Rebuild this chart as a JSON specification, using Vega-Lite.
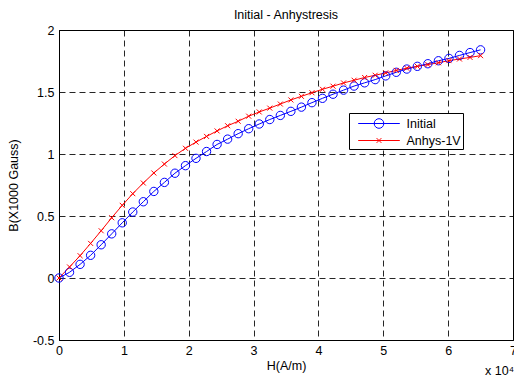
{
  "$schema": "https://vega.github.io/schema/vega-lite/v6.json",
  "autosize": "none",
  "width": 454,
  "height": 310,
  "padding": {"left": 59, "top": 30, "right": 1, "bottom": 37},
  "background": "white",
  "config": {
    "view": {"stroke": "#000", "strokeWidth": 1},
    "font": "Liberation Sans",
    "axis": {
      "labelFont": "Liberation Sans", "labelFontSize": 12.5, "labelColor": "#000",
      "titleFont": "Liberation Sans", "titleFontSize": 12.5, "titleFontWeight": "normal", "titleColor": "#000",
      "grid": true, "gridColor": "#000", "gridDash": [6, 4], "gridOpacity": 0.85, "gridWidth": 1,
      "ticks": false, "tickSize": 0, "domainColor": "#000"
    },
    "title": {"font": "Liberation Sans", "fontSize": 12.5, "fontWeight": "normal", "color": "#000", "offset": 3}
  },
  "title": {"text": "Initial - Anhystresis"},
  "data": {"values": [
    {"H": 0, "B": 0, "series": "Initial"},
    {"H": 1625, "B": 0.046, "series": "Initial"},
    {"H": 3250, "B": 0.11, "series": "Initial"},
    {"H": 4875, "B": 0.183, "series": "Initial"},
    {"H": 6500, "B": 0.268, "series": "Initial"},
    {"H": 8125, "B": 0.356, "series": "Initial"},
    {"H": 9750, "B": 0.445, "series": "Initial"},
    {"H": 11375, "B": 0.532, "series": "Initial"},
    {"H": 13000, "B": 0.615, "series": "Initial"},
    {"H": 14625, "B": 0.698, "series": "Initial"},
    {"H": 16250, "B": 0.771, "series": "Initial"},
    {"H": 17875, "B": 0.845, "series": "Initial"},
    {"H": 19500, "B": 0.906, "series": "Initial"},
    {"H": 21125, "B": 0.965, "series": "Initial"},
    {"H": 22750, "B": 1.02, "series": "Initial"},
    {"H": 24375, "B": 1.077, "series": "Initial"},
    {"H": 26000, "B": 1.12, "series": "Initial"},
    {"H": 27625, "B": 1.164, "series": "Initial"},
    {"H": 29250, "B": 1.204, "series": "Initial"},
    {"H": 30875, "B": 1.242, "series": "Initial"},
    {"H": 32500, "B": 1.278, "series": "Initial"},
    {"H": 34125, "B": 1.311, "series": "Initial"},
    {"H": 35750, "B": 1.344, "series": "Initial"},
    {"H": 37375, "B": 1.378, "series": "Initial"},
    {"H": 39000, "B": 1.414, "series": "Initial"},
    {"H": 40625, "B": 1.449, "series": "Initial"},
    {"H": 42250, "B": 1.482, "series": "Initial"},
    {"H": 43875, "B": 1.515, "series": "Initial"},
    {"H": 45500, "B": 1.548, "series": "Initial"},
    {"H": 47125, "B": 1.574, "series": "Initial"},
    {"H": 48750, "B": 1.6, "series": "Initial"},
    {"H": 50375, "B": 1.63, "series": "Initial"},
    {"H": 52000, "B": 1.659, "series": "Initial"},
    {"H": 53625, "B": 1.685, "series": "Initial"},
    {"H": 55250, "B": 1.707, "series": "Initial"},
    {"H": 56875, "B": 1.728, "series": "Initial"},
    {"H": 58500, "B": 1.752, "series": "Initial"},
    {"H": 60125, "B": 1.771, "series": "Initial"},
    {"H": 61750, "B": 1.795, "series": "Initial"},
    {"H": 63375, "B": 1.818, "series": "Initial"},
    {"H": 65000, "B": 1.84, "series": "Initial"},
    {"H": 0, "B": 0, "series": "Anhys-1V"},
    {"H": 1625, "B": 0.089, "series": "Anhys-1V"},
    {"H": 3250, "B": 0.18, "series": "Anhys-1V"},
    {"H": 4875, "B": 0.279, "series": "Anhys-1V"},
    {"H": 6500, "B": 0.381, "series": "Anhys-1V"},
    {"H": 8125, "B": 0.486, "series": "Anhys-1V"},
    {"H": 9750, "B": 0.586, "series": "Anhys-1V"},
    {"H": 11375, "B": 0.68, "series": "Anhys-1V"},
    {"H": 13000, "B": 0.766, "series": "Anhys-1V"},
    {"H": 14625, "B": 0.847, "series": "Anhys-1V"},
    {"H": 16250, "B": 0.919, "series": "Anhys-1V"},
    {"H": 17875, "B": 0.987, "series": "Anhys-1V"},
    {"H": 19500, "B": 1.046, "series": "Anhys-1V"},
    {"H": 21125, "B": 1.096, "series": "Anhys-1V"},
    {"H": 22750, "B": 1.142, "series": "Anhys-1V"},
    {"H": 24375, "B": 1.186, "series": "Anhys-1V"},
    {"H": 26000, "B": 1.228, "series": "Anhys-1V"},
    {"H": 27625, "B": 1.264, "series": "Anhys-1V"},
    {"H": 29250, "B": 1.305, "series": "Anhys-1V"},
    {"H": 30875, "B": 1.339, "series": "Anhys-1V"},
    {"H": 32500, "B": 1.37, "series": "Anhys-1V"},
    {"H": 34125, "B": 1.403, "series": "Anhys-1V"},
    {"H": 35750, "B": 1.436, "series": "Anhys-1V"},
    {"H": 37375, "B": 1.465, "series": "Anhys-1V"},
    {"H": 39000, "B": 1.494, "series": "Anhys-1V"},
    {"H": 40625, "B": 1.522, "series": "Anhys-1V"},
    {"H": 42250, "B": 1.547, "series": "Anhys-1V"},
    {"H": 43875, "B": 1.573, "series": "Anhys-1V"},
    {"H": 45500, "B": 1.595, "series": "Anhys-1V"},
    {"H": 47125, "B": 1.617, "series": "Anhys-1V"},
    {"H": 48750, "B": 1.635, "series": "Anhys-1V"},
    {"H": 50375, "B": 1.654, "series": "Anhys-1V"},
    {"H": 52000, "B": 1.674, "series": "Anhys-1V"},
    {"H": 53625, "B": 1.692, "series": "Anhys-1V"},
    {"H": 55250, "B": 1.707, "series": "Anhys-1V"},
    {"H": 56875, "B": 1.721, "series": "Anhys-1V"},
    {"H": 58500, "B": 1.736, "series": "Anhys-1V"},
    {"H": 60125, "B": 1.753, "series": "Anhys-1V"},
    {"H": 61750, "B": 1.766, "series": "Anhys-1V"},
    {"H": 63375, "B": 1.779, "series": "Anhys-1V"},
    {"H": 65000, "B": 1.793, "series": "Anhys-1V"}
  ]},
  "encoding": {
    "x": {"field": "H", "type": "quantitative",
      "scale": {"domain": [0, 70000], "nice": false, "zero": false},
      "axis": {"title": "H(A/m)", "values": [0, 10000, 20000, 30000, 40000, 50000, 60000, 70000],
        "labelExpr": "'' + (datum.value / 10000)", "labelPadding": 4, "titlePadding": 3, "labelFlush": false}},
    "y": {"field": "B", "type": "quantitative",
      "scale": {"domain": [-0.5, 2], "nice": false, "zero": false},
      "axis": {"title": "B(X1000 Gauss)", "values": [-0.5, 0, 0.5, 1, 1.5, 2],
        "labelExpr": "'' + datum.value", "labelPadding": 5, "titlePadding": 12}}
  },
  "layer": [
    {
      "mark": {"type": "line", "strokeWidth": 1},
      "encoding": {
        "color": {"field": "series", "type": "nominal",
          "scale": {"domain": ["Initial", "Anhys-1V"], "range": ["#0000ff", "#ff0000"]},
          "legend": {
            "title": null, "orient": "none", "legendX": 290, "legendY": 83,
            "strokeColor": "#000", "fillColor": "#fff", "padding": 2,
            "symbolSize": 256, "symbolStrokeWidth": 1, "symbolOffset": 19.5, "labelOffset": 19,
            "rowPadding": 1, "labelFont": "Liberation Sans", "labelFontSize": 12.5, "labelColor": "#000",
            "labelExpr": "datum.label + '\u00a0\u00a0\u00a0'",
            "encode": {"symbols": {"update": {
              "shape": {"signal": "datum.value === 'Initial' ? 'M-2.6,0L2.6,0M0.6,0A0.6,0.6,0,1,1,-0.6,0A0.6,0.6,0,1,1,0.6,0' : 'M-2.6,0L2.6,0M-0.3,-0.3L0.3,0.3M-0.3,0.3L0.3,-0.3'"},
              "fill": {"value": "transparent"},
              "strokeWidth": {"value": 1}
            }}}
          }}
      }
    },
    {
      "transform": [{"filter": "datum.series === 'Initial'"}],
      "mark": {"type": "point", "shape": "circle", "size": 70, "filled": false, "stroke": "#0000ff", "strokeWidth": 1, "opacity": 1}
    },
    {
      "transform": [{"filter": "datum.series === 'Anhys-1V'"}],
      "mark": {"type": "point", "shape": "M-1,-1L1,1M-1,1L1,-1", "size": 25, "filled": false, "stroke": "#ff0000", "strokeWidth": 1, "opacity": 1}
    },
    {
      "transform": [{"filter": "datum.series === 'Initial' && datum.H === 0"}],
      "mark": {"type": "text", "text": "x 10\u2074", "align": "right", "baseline": "middle", "dy": 31, "dx": 1, "fontSize": 12.5, "font": "Liberation Sans", "color": "#000"},
      "encoding": {"x": {"datum": 70000}, "y": {"datum": -0.5}}
    }
  ]
}
